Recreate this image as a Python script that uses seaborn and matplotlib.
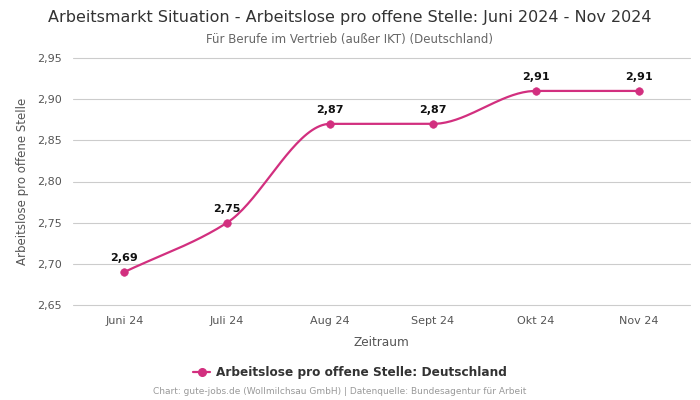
import numpy as np
import pandas as pd
import matplotlib
matplotlib.use("Agg")
import matplotlib.pyplot as plt
import seaborn as sns
from matplotlib.lines import Line2D

months = ["Juni 24", "Juli 24", "Aug 24", "Sept 24", "Okt 24", "Nov 24"]
values = [2.69, 2.75, 2.87, 2.87, 2.91, 2.91]
value_labels = ["2,69", "2,75", "2,87", "2,87", "2,91", "2,91"]
yticks = [2.65, 2.70, 2.75, 2.80, 2.85, 2.90, 2.95]
ytick_labels = ["2,65", "2,70", "2,75", "2,80", "2,85", "2,90", "2,95"]
series_name = "Arbeitslose pro offene Stelle: Deutschland"

color = "#d22f7f"

sns.set_theme(style="white")
plt.rcParams["font.family"] = ["DejaVu Sans"]


def monotone_curve(x, y, n=40):
    x = np.asarray(x, float)
    y = np.asarray(y, float)
    h = np.diff(x)
    d = np.diff(y) / h
    m = np.zeros_like(y)
    m[0], m[-1] = d[0], d[-1]
    for i in range(1, len(y) - 1):
        if d[i - 1] * d[i] <= 0:
            m[i] = 0
        else:
            m[i] = 2 / (1 / d[i - 1] + 1 / d[i])
    xs, ys = [], []
    for i in range(len(h)):
        t = np.linspace(0, 1, n, endpoint=(i == len(h) - 1))
        h00 = 2 * t**3 - 3 * t**2 + 1
        h10 = t**3 - 2 * t**2 + t
        h01 = -2 * t**3 + 3 * t**2
        h11 = t**3 - t**2
        xs.append(x[i] + t * h[i])
        ys.append(h00 * y[i] + h10 * h[i] * m[i] + h01 * y[i + 1] + h11 * h[i] * m[i + 1])
    return np.concatenate(xs), np.concatenate(ys)


pos = np.arange(len(months))
cx, cy = monotone_curve(pos, values)
curve = pd.DataFrame({"x": cx, "y": cy})
pts = pd.DataFrame({"x": pos, "y": values})

fig = plt.figure(figsize=(7, 4), dpi=100)
ax = fig.add_axes([0.104, 0.2375, 0.882, 0.6175])
ax.set_axisbelow(True)

sns.lineplot(data=curve, x="x", y="y", ax=ax, color=color, linewidth=1.6)
sns.scatterplot(data=pts, x="x", y="y", ax=ax, color=color, s=30, edgecolor=color, zorder=5)

for xi, yi, lab in zip(pos, values, value_labels):
    ax.annotate(lab, (xi, yi), xytext=(0, 6.5), textcoords="offset points",
                ha="center", va="bottom", fontsize=8, fontweight="bold", color="#111111")

ax.set_xlim(-0.5, len(months) - 0.5)
ax.set_ylim(yticks[0], yticks[-1])
ax.set_xticks(pos)
ax.set_xticklabels(months, fontsize=8, color="#555555")
ax.set_yticks(yticks)
ax.set_yticklabels(ytick_labels, fontsize=8, color="#555555")
ax.tick_params(axis="both", length=0, pad=8)
ax.yaxis.grid(True, color="#cccccc", linewidth=0.8)
ax.xaxis.grid(False)
for gl in ax.get_ygridlines():
    gl.set_clip_on(False)
for s in ax.spines.values():
    s.set_visible(False)
ax.set_xlabel("Zeitraum", fontsize=8.7, color="#555555", labelpad=7)
ax.set_ylabel("Arbeitslose pro offene Stelle", fontsize=8.5, color="#555555", labelpad=6)

fig.text(0.5, 0.957, "Arbeitsmarkt Situation - Arbeitslose pro offene Stelle: Juni 2024 - Nov 2024",
         ha="center", va="center", fontsize=11.5, color="#333333")
fig.text(0.5, 0.902, "Für Berufe im Vertrieb (außer IKT) (Deutschland)",
         ha="center", va="center", fontsize=8.5, color="#666666")

handle = Line2D([0], [0], color=color, marker="o", markersize=5.5, linewidth=1.6)
fig.legend([handle], [series_name], loc="center", bbox_to_anchor=(0.5, 0.068),
           frameon=False, prop={"size": 8.7, "weight": "bold"}, labelcolor="#333333",
           handlelength=1.4, handletextpad=0.5)
fig.text(0.485, 0.02, "Chart: gute-jobs.de (Wollmilchsau GmbH) | Datenquelle: Bundesagentur für Arbeit",
         ha="center", va="center", fontsize=6.5, color="#999999")

fig.savefig("out.png", dpi=100)
